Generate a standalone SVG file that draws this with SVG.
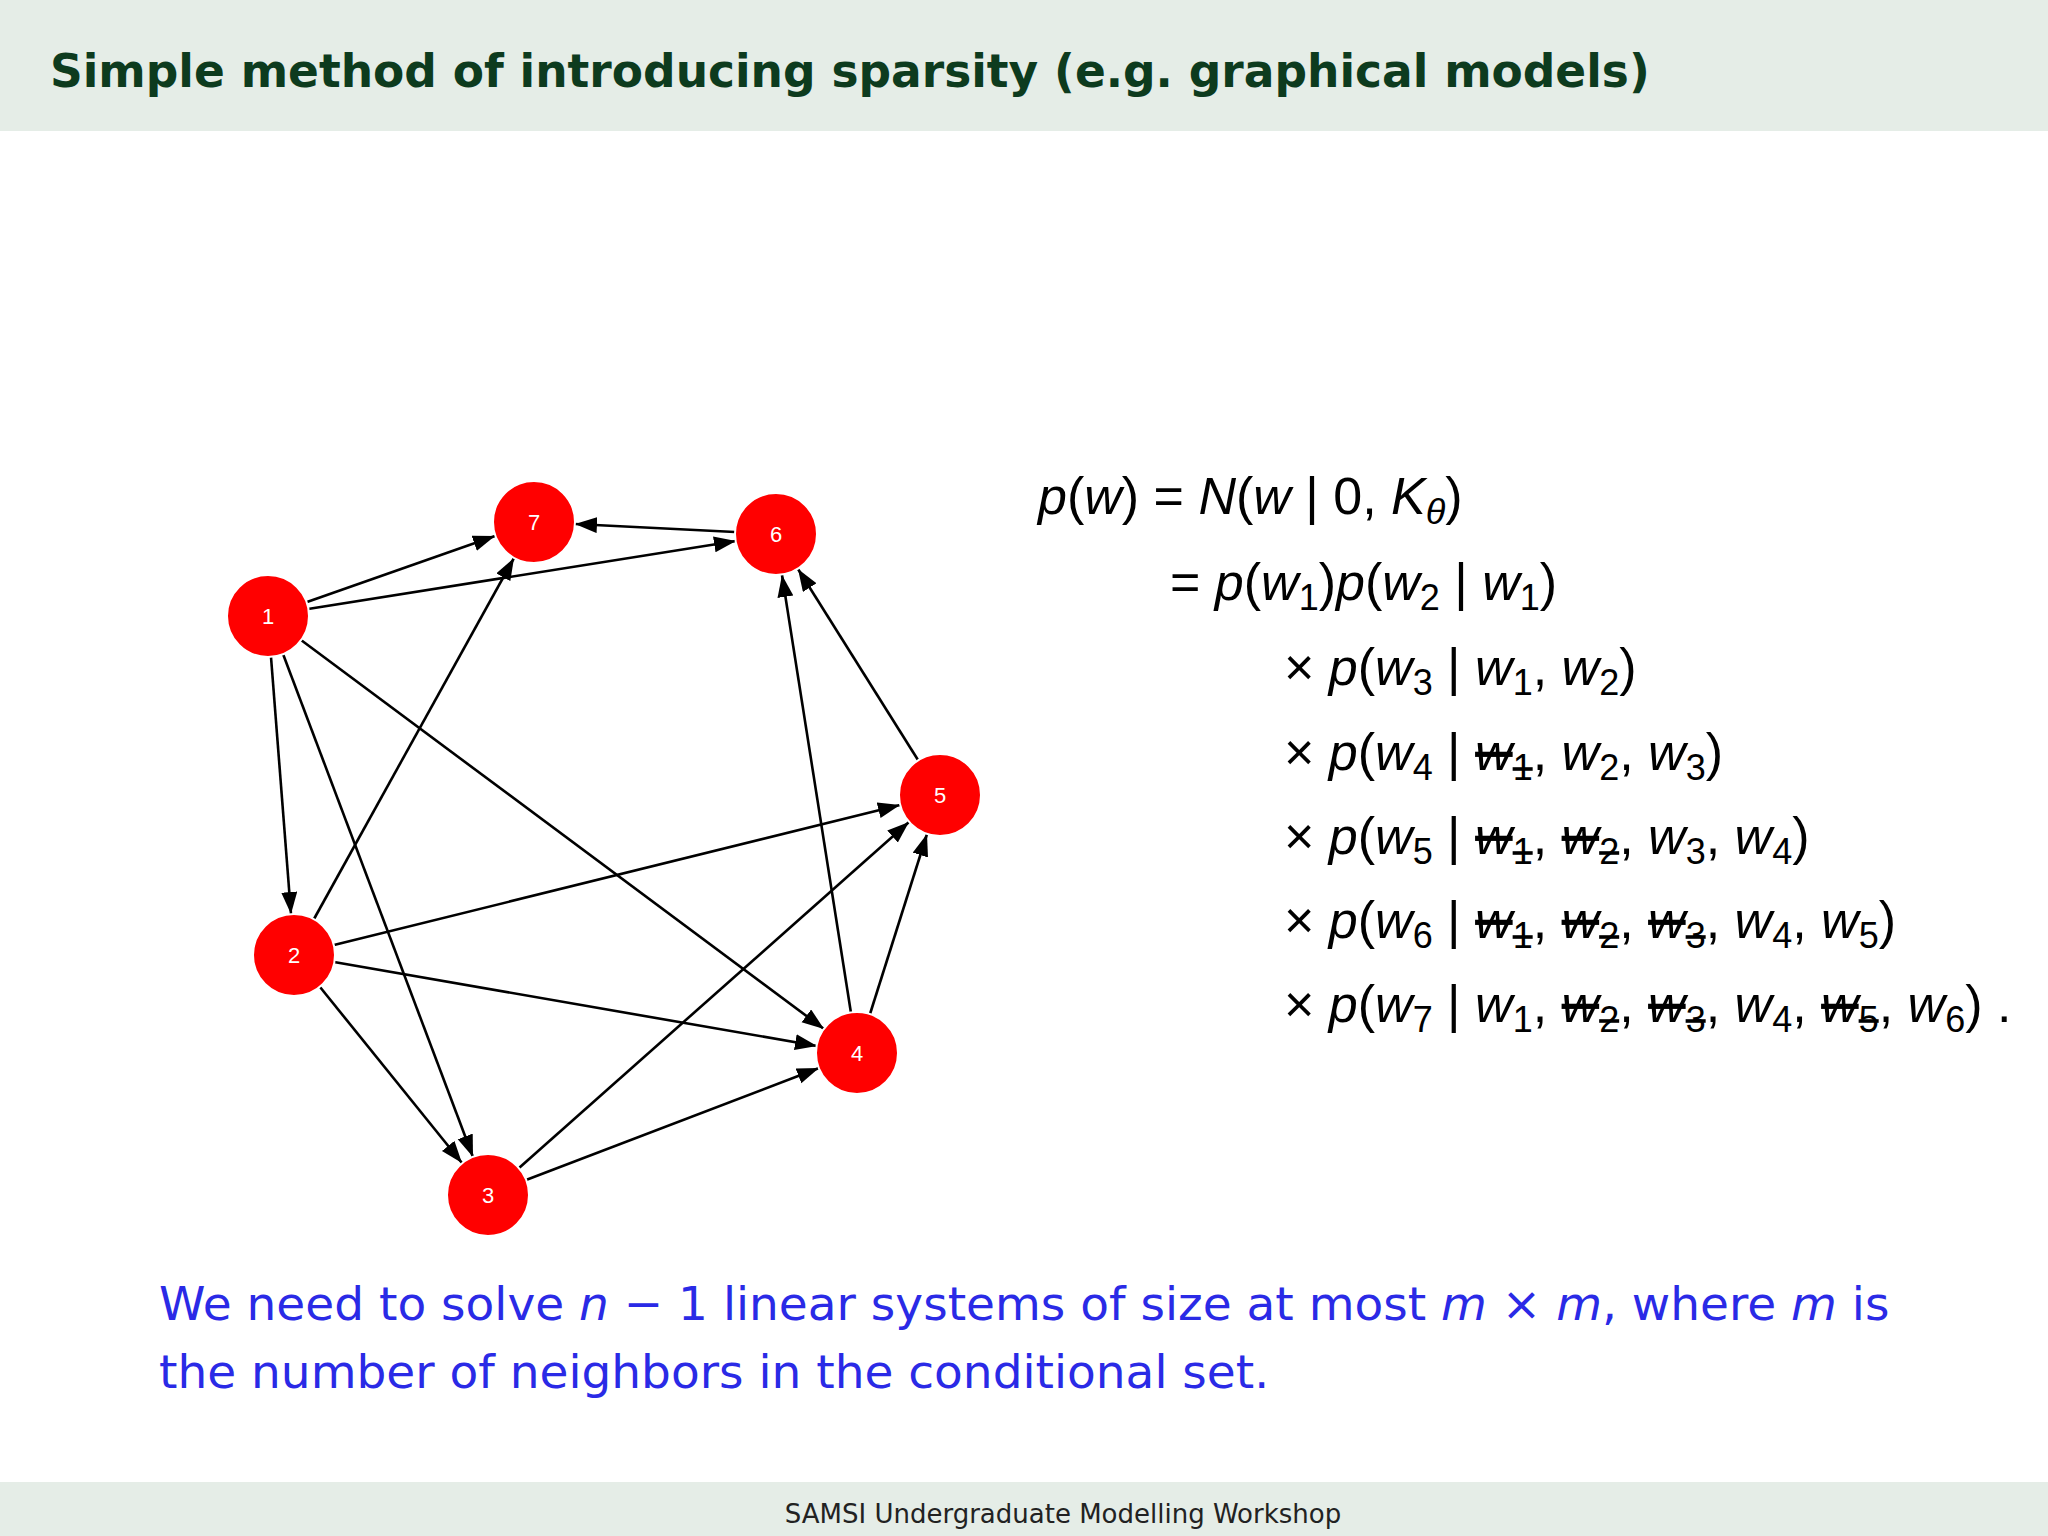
<svg xmlns="http://www.w3.org/2000/svg" width="2048" height="1536" viewBox="0 0 2048 1536">
<style>
.node circle{fill:#ff0000;stroke:#fff;stroke-width:2}
.node text{font-family:"Liberation Sans",Arial,sans-serif;font-size:22px;fill:#fff;text-anchor:middle;dominant-baseline:central}
.edges line{stroke:#000;stroke-width:2.6;marker-end:url(#ah)}
.m{font-family:"Liberation Sans",Arial,sans-serif;font-size:52px;fill:#000}
.i{font-style:italic}
.s{font-size:36px;baseline-shift:-10px}
.x{text-decoration:line-through}
.blue{font-family:"DejaVu Sans","Liberation Sans",sans-serif;font-size:47px;fill:#2a2ae6}
</style>
<defs>
<marker id="ah" markerUnits="userSpaceOnUse" markerWidth="24" markerHeight="18" refX="22" refY="8" orient="auto">
<path d="M0,0 L22,8 L0,16 z" fill="#000"/>
</marker>
</defs>
<rect width="2048" height="1536" fill="#fff"/>
<rect width="2048" height="131" fill="#e5ede7"/>
<text x="50" y="87" font-family="DejaVu Sans,Liberation Sans,sans-serif" font-weight="bold" font-size="45.5" fill="#0d3b1e">Simple method of introducing sparsity (e.g. graphical models)</text>
<rect y="1482" width="2048" height="54" fill="#e5ede7"/>
<text x="1063" y="1523" text-anchor="middle" font-family="DejaVu Sans,Liberation Sans,sans-serif" font-size="26" fill="#222">SAMSI Undergraduate Modelling Workshop</text>
<g class="edges">
<line x1="307" y1="602" x2="495" y2="536"/>
<line x1="308" y1="609" x2="736" y2="541"/>
<line x1="271" y1="657" x2="291" y2="914"/>
<line x1="283" y1="654" x2="473" y2="1157"/>
<line x1="301" y1="640" x2="824" y2="1029"/>
<line x1="314" y1="919" x2="514" y2="558"/>
<line x1="334" y1="945" x2="900" y2="805"/>
<line x1="334" y1="962" x2="817" y2="1046"/>
<line x1="320" y1="987" x2="462" y2="1163"/>
<line x1="519" y1="1168" x2="909" y2="822"/>
<line x1="526" y1="1180" x2="819" y2="1068"/>
<line x1="851" y1="1013" x2="782" y2="575"/>
<line x1="870" y1="1014" x2="927" y2="834"/>
<line x1="918" y1="760" x2="798" y2="569"/>
<line x1="735" y1="532" x2="575" y2="524"/>
</g>
<g id="n1" class="node"><circle cx="268" cy="616" r="41"/><text x="268" y="616">1</text></g>
<g id="n2" class="node"><circle cx="294" cy="955" r="41"/><text x="294" y="955">2</text></g>
<g id="n3" class="node"><circle cx="488" cy="1195" r="41"/><text x="488" y="1195">3</text></g>
<g id="n4" class="node"><circle cx="857" cy="1053" r="41"/><text x="857" y="1053">4</text></g>
<g id="n5" class="node"><circle cx="940" cy="795" r="41"/><text x="940" y="795">5</text></g>
<g id="n6" class="node"><circle cx="776" cy="534" r="41"/><text x="776" y="534">6</text></g>
<g id="n7" class="node"><circle cx="534" cy="522" r="41"/><text x="534" y="522">7</text></g>
<text class="m" x="1038" y="514"><tspan class="i">p</tspan>(<tspan class="i">w</tspan>) = <tspan class="i">N</tspan>(<tspan class="i">w</tspan> | 0, <tspan class="i">K</tspan><tspan class="s i">θ</tspan>)</text>
<text class="m" x="1170" y="600">= <tspan class="i">p</tspan>(<tspan class="i">w</tspan><tspan class="s">1</tspan>)<tspan class="i">p</tspan>(<tspan class="i">w</tspan><tspan class="s">2</tspan> | <tspan class="i">w</tspan><tspan class="s">1</tspan>)</text>
<text class="m" x="1284" y="685">× <tspan class="i">p</tspan>(<tspan class="i">w</tspan><tspan class="s">3</tspan> | <tspan class="i">w</tspan><tspan class="s">1</tspan>, <tspan class="i">w</tspan><tspan class="s">2</tspan>)</text>
<text class="m" x="1284" y="770">× <tspan class="i">p</tspan>(<tspan class="i">w</tspan><tspan class="s">4</tspan> | <tspan class="x"><tspan class="i">w</tspan><tspan class="s">1</tspan></tspan>, <tspan class="i">w</tspan><tspan class="s">2</tspan>, <tspan class="i">w</tspan><tspan class="s">3</tspan>)</text>
<text class="m" x="1284" y="854">× <tspan class="i">p</tspan>(<tspan class="i">w</tspan><tspan class="s">5</tspan> | <tspan class="x"><tspan class="i">w</tspan><tspan class="s">1</tspan></tspan>, <tspan class="x"><tspan class="i">w</tspan><tspan class="s">2</tspan></tspan>, <tspan class="i">w</tspan><tspan class="s">3</tspan>, <tspan class="i">w</tspan><tspan class="s">4</tspan>)</text>
<text class="m" x="1284" y="938">× <tspan class="i">p</tspan>(<tspan class="i">w</tspan><tspan class="s">6</tspan> | <tspan class="x"><tspan class="i">w</tspan><tspan class="s">1</tspan></tspan>, <tspan class="x"><tspan class="i">w</tspan><tspan class="s">2</tspan></tspan>, <tspan class="x"><tspan class="i">w</tspan><tspan class="s">3</tspan></tspan>, <tspan class="i">w</tspan><tspan class="s">4</tspan>, <tspan class="i">w</tspan><tspan class="s">5</tspan>)</text>
<text class="m" x="1284" y="1022">× <tspan class="i">p</tspan>(<tspan class="i">w</tspan><tspan class="s">7</tspan> | <tspan class="i">w</tspan><tspan class="s">1</tspan>, <tspan class="x"><tspan class="i">w</tspan><tspan class="s">2</tspan></tspan>, <tspan class="x"><tspan class="i">w</tspan><tspan class="s">3</tspan></tspan>, <tspan class="i">w</tspan><tspan class="s">4</tspan>, <tspan class="x"><tspan class="i">w</tspan><tspan class="s">5</tspan></tspan>, <tspan class="i">w</tspan><tspan class="s">6</tspan>) .</text>
<text class="blue" x="159" y="1320">We need to solve <tspan font-style="italic">n</tspan> − 1 linear systems of size at most <tspan font-style="italic">m</tspan> × <tspan font-style="italic">m</tspan>, where <tspan font-style="italic">m</tspan> is</text>
<text class="blue" x="159" y="1388">the number of neighbors in the conditional set.</text>
</svg>
